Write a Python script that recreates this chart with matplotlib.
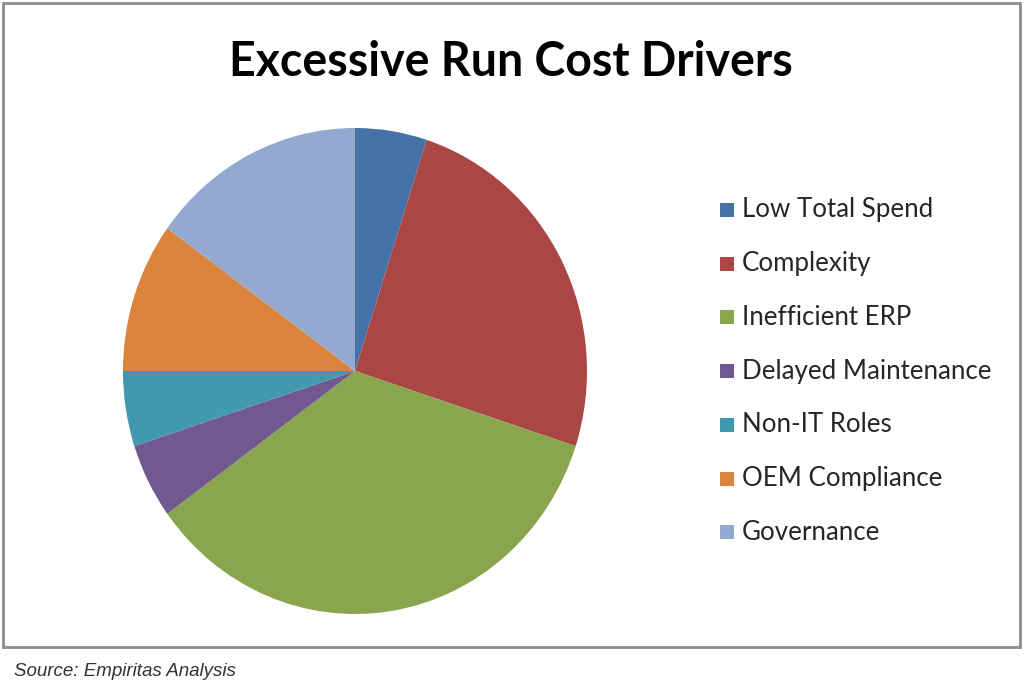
import matplotlib
matplotlib.use("Agg")
import matplotlib.pyplot as plt
from matplotlib.patches import Rectangle

# data
labels = ['Low Total Spend', 'Complexity', 'Inefficient ERP', 'Delayed Maintenance',
          'Non-IT Roles', 'OEM Compliance', 'Governance']
values = [5, 25, 35, 5, 5, 10, 15]
colors = ['#4572A7', '#AA4643', '#89A54E', '#71588F', '#4198AF', '#DB843D', '#93A9CF']

W, H = 1024, 695
fig = plt.figure(figsize=(W / 100, H / 100), dpi=100)
fig.patch.set_facecolor('white')

# frame around the chart
fig.patches.append(Rectangle((3 / W, 1 - 647 / H), 1017 / W, 644 / H, transform=fig.transFigure,
                             fill=False, edgecolor='#8c8c8c', linewidth=2))

# pie (slightly taller than wide, as in the picture)
cx, cy, rx, ry = 355, 371, 232, 243
ax = fig.add_axes([(cx - rx) / W, 1 - (cy + ry) / H, 2 * rx / W, 2 * ry / H])
ax.pie(values, colors=colors, startangle=90, counterclock=False,
       wedgeprops=dict(linewidth=0))
ax.set_aspect('auto')
ax.set_xlim(-1, 1)
ax.set_ylim(-1, 1)
ax.axis('off')

fig.text(511 / W, 1 - 62 / H, 'Excessive Run Cost Drivers', ha='center', va='center',
         fontsize=33.5, fontweight='bold', family='Lato', color='black')

# legend
y0, dy = 210, 53.7
for i, (lab, col) in enumerate(zip(labels, colors)):
    y = y0 + i * dy
    fig.patches.append(Rectangle((720 / W, 1 - (y + 7) / H), 14 / W, 14 / H,
                                 transform=fig.transFigure, facecolor=col, edgecolor='none'))
    fig.text(742 / W, 1 - y / H, lab, ha='left', va='center', fontsize=18.6,
             family='Lato', color='#262626')

fig.text(14 / W, 1 - 672 / H, 'Source: Empiritas Analysis', ha='left', va='center',
         fontsize=13.5, style='italic', family='Liberation Sans', color='#333333')

fig.savefig('out.png', dpi=100)
